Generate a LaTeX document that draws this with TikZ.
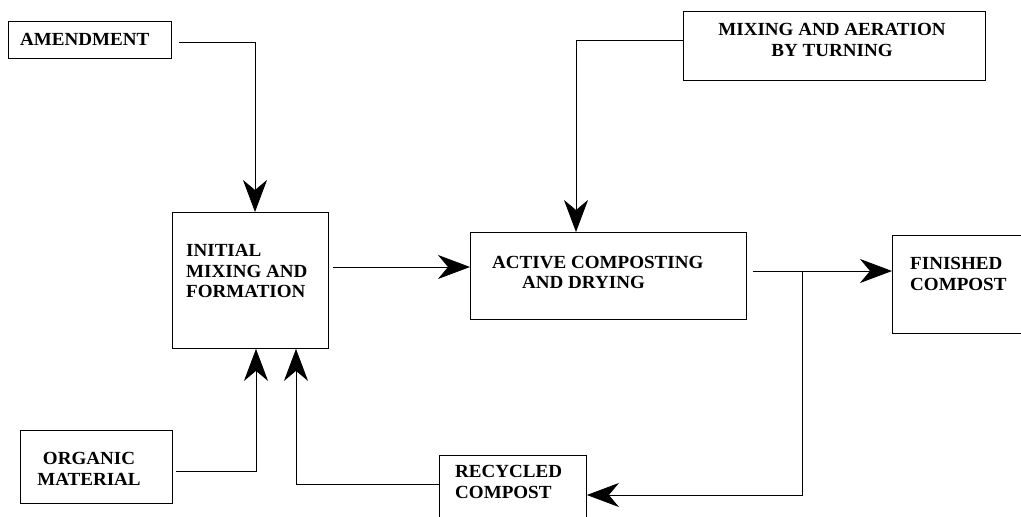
\documentclass[tikz,border=0pt]{standalone}
\usepackage{fontspec}
\setmainfont[FakeStretch=1.03]{Liberation Serif}
\usetikzlibrary{arrows.meta}
\begin{document}
\begin{tikzpicture}[x=1pt,y=-1pt,
  box/.style={draw, line width=0.9pt, inner sep=0pt, anchor=north west},
  lbl/.style={font=\fontsize{18.5}{20.5}\selectfont\bfseries, inner sep=0pt},
  conn/.style={line width=0.8pt},
  arr/.style={conn, -{Stealth[length=32pt,width=24pt,inset=10pt]}}]
\useasboundingbox (0,0) rectangle (1021,517);
% boxes
\node[box, minimum width=163pt, minimum height=37pt] (amend) at (8,21) {};
\node[box, minimum width=302pt, minimum height=69pt] (mix) at (683,11) {};
\node[box, minimum width=156pt, minimum height=136pt] (init) at (172,212) {};
\node[box, minimum width=276pt, minimum height=87pt] (active) at (470,232) {};
\node[box, minimum width=150pt, minimum height=98pt] (finished) at (892,235) {};
\node[box, minimum width=152pt, minimum height=73pt] (organic) at (20,430) {};
\node[box, minimum width=147pt, minimum height=80pt] (recycled) at (439,455) {};
% labels
\node[lbl, anchor=west] (tamend) at (20,39.5) {AMENDMENT};
\node[lbl, align=center] (tmix) at (832,40) {MIXING AND AERATION\\BY TURNING};
\node[lbl, anchor=west, align=left] (tinit) at (186,271) {INITIAL\\MIXING AND\\FORMATION};
\node[lbl, anchor=west, align=left] (tactive) at (492,272.5) {ACTIVE COMPOSTING\\\hspace*{30pt}AND DRYING};
\node[lbl, anchor=west, align=left] (tfinished) at (910,274) {FINISHED\\COMPOST};
\node[lbl, align=center] (torganic) at (89,469) {ORGANIC\\MATERIAL};
\node[lbl, anchor=west, align=left] (trecycled) at (455,482) {RECYCLED\\COMPOST};
% connectors
\draw[arr, shorten <=7pt] ([yshift=-2.5pt]amend.east) -| (init.north -| 255,0);
\draw[arr] ([yshift=5.5pt]mix.west) -| (active.north -| 576,0);
\draw[arr, shorten <=4pt] (init.east |- 0,267) -- (active.west |- 0,267);
\draw[arr, shorten <=6pt] (active.east |- 0,271) -- (finished.west |- 0,271);
\coordinate (j) at (802,271);
\draw[arr] (j) |- (recycled.east |- 0,495);
\draw[arr, shorten <=3pt] (organic.east |- 0,471) -| (init.south -| 256,0);
\draw[arr] (recycled.west |- 0,484) -| (init.south -| 296,0);
\end{tikzpicture}
\end{document}
